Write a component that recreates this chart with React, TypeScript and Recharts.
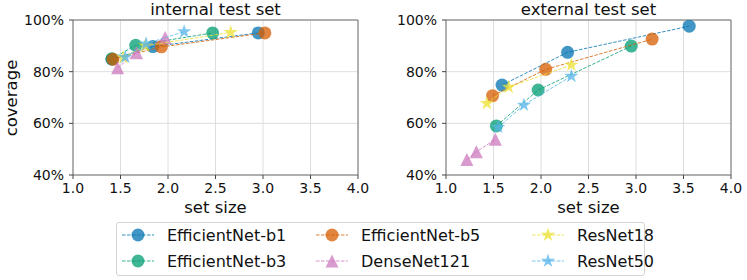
import React from 'react';
import { ScatterChart, Scatter, XAxis, YAxis, CartesianGrid, ReferenceArea } from 'recharts';

// ---------- data ----------
const seriesNames = ['EfficientNet-b1', 'EfficientNet-b3', 'EfficientNet-b5', 'DenseNet121', 'ResNet18', 'ResNet50'];
const seriesColors = ['#0173b2', '#029e73', '#d55e00', '#cc78bc', '#ece133', '#56b4e9'];
const seriesShapes = ['circle', 'circle', 'circle', 'triangle', 'star', 'star'];

const xTicks = [1.0, 1.5, 2.0, 2.5, 3.0, 3.5, 4.0];
const yTicks = [40, 60, 80, 100];

// internal test set: [set size, coverage %]
const internalB1 = [[1.41, 84.8], [1.84, 89.7], [2.95, 95.0]];
const internalB3 = [[1.41, 85.0], [1.66, 90.2], [2.47, 95.0]];
const internalB5 = [[1.42, 84.8], [1.93, 89.6], [3.02, 95.0]];
const internalDense = [[1.47, 81.5], [1.67, 87.3], [1.97, 93.2]];
const internalR18 = [[1.53, 85.5], [1.76, 90.0], [2.66, 95.2]];
const internalR50 = [[1.55, 85.6], [1.77, 90.8], [2.17, 95.5]];

// external test set
const externalB1 = [[1.59, 74.8], [2.28, 87.5], [3.56, 97.6]];
const externalB3 = [[1.53, 59.0], [1.97, 72.9], [2.95, 89.9]];
const externalB5 = [[1.49, 70.7], [2.05, 80.9], [3.17, 92.6]];
const externalDense = [[1.22, 46.0], [1.32, 49.0], [1.52, 53.8]];
const externalR18 = [[1.43, 67.7], [1.66, 74.0], [2.32, 82.6]];
const externalR50 = [[1.55, 58.5], [1.82, 67.1], [2.32, 78.3]];

const internalSeries = [internalB1, internalB3, internalB5, internalDense, internalR18, internalR50];
const externalSeries = [externalB1, externalB3, externalB5, externalDense, externalR18, externalR50];

// ---------- styling ----------
const FONT = '"DejaVu Sans", Verdana, sans-serif';
const ALPHA = 0.75;
const R = 6.5;

function starPoints(cx: number, cy: number, ro: number) {
  const ri = ro * 0.381966;
  const pts: string[] = [];
  for (let i = 0; i < 10; i++) {
    const r = i % 2 === 0 ? ro : ri;
    const a = -Math.PI / 2 + (i * Math.PI) / 5;
    pts.push(`${cx + r * Math.cos(a)},${cy + r * Math.sin(a)}`);
  }
  return pts.join(' ');
}

function Marker({ kind, cx, cy, color }: { kind: string; cx: number; cy: number; color: string }) {
  if (kind === 'triangle') {
    return (
      <polygon
        points={`${cx},${cy - R} ${cx - R},${cy + R} ${cx + R},${cy + R}`}
        fill={color}
        fillOpacity={ALPHA}
      />
    );
  }
  if (kind === 'star') {
    return <polygon points={starPoints(cx, cy, R + 1)} fill={color} fillOpacity={ALPHA} />;
  }
  return <circle cx={cx} cy={cy} r={R} fill={color} fillOpacity={ALPHA} />;
}

function makeShape(kind: string, color: string) {
  return (props: any) => {
    const { cx, cy } = props;
    if (cx == null || cy == null) return <g />;
    return <Marker kind={kind} cx={cx} cy={cy} color={color} />;
  };
}

const tickStyle = { fontSize: 14, fill: '#111', fontFamily: FONT };

function Panel({ series, left, width, rightMargin }: { series: number[][][]; left: number; width: number; rightMargin: number }) {
  return (
    <div style={{ position: 'absolute', left, top: 0 }}>
      <ScatterChart width={width} height={215} margin={{ top: 20, right: rightMargin, bottom: 0, left: 0 }}>
        <CartesianGrid stroke="#dedede" strokeWidth={1} />
        <XAxis
          type="number"
          dataKey="x"
          domain={[1, 4]}
          ticks={xTicks}
          tickFormatter={(v: number) => v.toFixed(1)}
          height={40}
          tickSize={4}
          tickMargin={4}
          axisLine={false}
          tickLine={{ stroke: '#444' }}
          tick={tickStyle}
          allowDataOverflow
          interval={0}
        />
        <YAxis
          type="number"
          dataKey="y"
          domain={[40, 100]}
          ticks={yTicks}
          tickFormatter={(v: number) => `${v}%`}
          width={73}
          tickSize={4}
          tickMargin={5}
          axisLine={false}
          tickLine={{ stroke: '#444' }}
          tick={tickStyle}
          allowDataOverflow
          interval={0}
        />
        <ReferenceArea x1={1} x2={4} y1={40} y2={100} fill="none" stroke="#707070" strokeWidth={1} ifOverflow="visible" />
        {series.map((pts, i) => (
          <Scatter
            key={seriesNames[i]}
            name={seriesNames[i]}
            data={pts.map(([x, y]) => ({ x, y }))}
            fill={seriesColors[i]}
            line={{ stroke: seriesColors[i], strokeWidth: 1, strokeDasharray: '3.5 1.5', strokeOpacity: 0.8 }}
            lineType="joint"
            shape={makeShape(seriesShapes[i], seriesColors[i])}
            isAnimationActive={false}
          />
        ))}
      </ScatterChart>
    </div>
  );
}

function LegendItem({ i }: { i: number }) {
  const color = seriesColors[i];
  return (
    <div style={{ display: 'flex', alignItems: 'center', height: 26 }}>
      <svg width={34} height={20} style={{ display: 'block' }}>
        <line x1={1} y1={10} x2={33} y2={10} stroke={color} strokeWidth={1} strokeDasharray="3.5 1.5" strokeOpacity={0.8} />
        <Marker kind={seriesShapes[i]} cx={17} cy={10} color={color} />
      </svg>
      <span style={{ marginLeft: 12, fontSize: 16, whiteSpace: 'nowrap' }}>{seriesNames[i]}</span>
    </div>
  );
}

export default function App() {
  const cols = [[0, 1], [2, 3], [4, 5]];
  const colLeft = [121, 315, 531];
  return (
    <div style={{ position: 'absolute', left: 0, top: 0, width: 747, height: 280, background: '#fff', fontFamily: FONT, color: '#111', overflow: 'hidden' }}>
      <Panel series={internalSeries} left={0} width={373} rightMargin={15} />
      <Panel series={externalSeries} left={373} width={374} rightMargin={16} />

      <div style={{ position: 'absolute', left: 115.5, top: 0, width: 200, textAlign: 'center', fontSize: 16.5, lineHeight: '20px' }}>internal test set</div>
      <div style={{ position: 'absolute', left: 488.5, top: 0, width: 200, textAlign: 'center', fontSize: 16.5, lineHeight: '20px' }}>external test set</div>

      <div style={{ position: 'absolute', left: 115.5, top: 198, width: 200, textAlign: 'center', fontSize: 16.5, lineHeight: '20px' }}>set size</div>
      <div style={{ position: 'absolute', left: 488.5, top: 198, width: 200, textAlign: 'center', fontSize: 16.5, lineHeight: '20px' }}>set size</div>

      <div style={{ position: 'absolute', left: 12, top: 97.5, width: 0, height: 0 }}>
        <div style={{ position: 'absolute', left: -60, top: -10, width: 120, textAlign: 'center', fontSize: 16.5, lineHeight: '20px', transform: 'rotate(-90deg)' }}>coverage</div>
      </div>

      <div style={{ position: 'absolute', left: 116, top: 222, width: 529, height: 54, boxSizing: 'border-box', border: '1px solid #d5d5d5', borderRadius: 3 }} />
      {cols.map((c, ci) => (
        <div key={ci} style={{ position: 'absolute', left: colLeft[ci], top: 222 }}>
          {c.map((i) => (
            <LegendItem key={i} i={i} />
          ))}
        </div>
      ))}
    </div>
  );
}
